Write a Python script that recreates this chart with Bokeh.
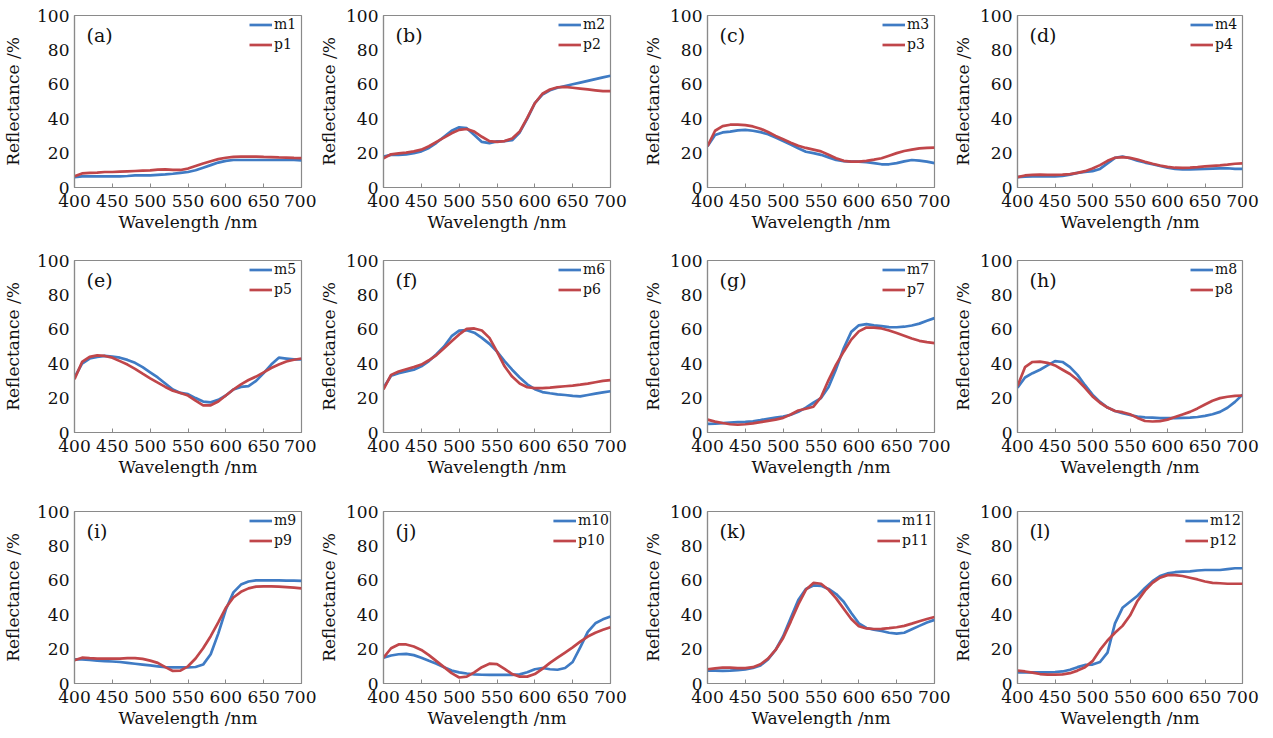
from bokeh.plotting import figure
from bokeh.layouts import column, row
from bokeh.models import Label, Range1d, FixedTicker
from bokeh.embed import file_html
from bokeh.resources import INLINE

wl = list(range(400, 701, 10))

m1 = [6, 6.5, 6.5, 6.5, 6.5, 6.5, 6.5, 6.7, 7, 7, 7, 7.3, 7.6, 8, 8.5, 9, 10, 11.5, 13, 14.5, 15.5, 16, 16, 16, 16, 16, 16, 16, 16, 16, 15.8]
p1 = [6.5, 8.2, 8.5, 8.7, 9, 9, 9.2, 9.4, 9.6, 9.8, 10, 10.4, 10.5, 10.2, 10.2, 11, 12.5, 14, 15.3, 16.5, 17.3, 17.8, 18, 18, 18, 17.8, 17.7, 17.5, 17.4, 17.2, 17.1]
m2 = [18, 19, 19, 19.3, 20, 21, 23, 26, 29.5, 33, 35, 34.5, 30.5, 26.5, 25.8, 26.8, 27, 27.5, 32, 40, 49, 54, 56.5, 58, 59, 60, 61, 62, 63, 64, 65]
p2 = [17, 19.3, 19.8, 20.3, 21, 22, 24, 26.5, 29, 31.5, 33.5, 34, 32.5, 29.5, 27, 26.5, 27, 28.5, 32.5, 40.5, 49, 54.5, 57, 58.3, 58.5, 58, 57.5, 57, 56.5, 56, 56]
m3 = [24, 30.5, 32, 32.5, 33.2, 33.5, 33, 32.2, 31, 29, 27, 25, 22.8, 20.8, 20, 19, 17.5, 16, 15.3, 15, 15, 14.7, 14.2, 13.5, 13.5, 14.2, 15.2, 16, 15.6, 15, 14.2]
p3 = [24, 33, 35.7, 36.5, 36.5, 36.3, 35.5, 34.2, 32.3, 30, 28, 26, 24.3, 23, 22, 21, 19, 17, 15.5, 15, 15, 15.5, 16.2, 17, 18.5, 20, 21.2, 22, 22.7, 23, 23.2]
m4 = [6, 6.3, 6.5, 6.5, 6.5, 6.5, 6.8, 7.5, 8.5, 9, 9.5, 10.8, 14, 17.2, 18, 17, 15.6, 14.5, 13.5, 12.5, 11.5, 10.8, 10.5, 10.5, 10.7, 10.8, 11, 11.1, 11.2, 10.8, 10.8]
p4 = [6, 7, 7.3, 7.5, 7.3, 7.3, 7.5, 7.8, 8.5, 9.5, 11, 13, 15.5, 17.3, 17.7, 17.2, 16.3, 15, 13.8, 12.8, 12, 11.5, 11.4, 11.6, 11.9, 12.3, 12.6, 12.9, 13.3, 13.8, 14]
m5 = [32, 40, 43, 44, 44.5, 44.2, 43.5, 42.2, 40.5, 38, 35, 32, 28.5, 25, 23, 22.3, 20, 18, 17.5, 19, 21.5, 25, 26.5, 27, 30, 34.5, 39.5, 43.5, 43, 42.5, 42.5]
p5 = [31, 41, 44, 44.8, 44.5, 43.5, 41.5, 39.5, 37, 34.2, 31.5, 29, 26.5, 24.3, 23, 21.5, 18.5, 15.8, 15.8, 18, 21.5, 25, 28, 30.5, 32.5, 35, 37.5, 39.5, 41.3, 42.3, 43]
m6 = [26, 33, 34.5, 35.5, 36.5, 38.5, 41.5, 45.5, 50, 56, 59.2, 59.5, 58, 55, 51.5, 47, 41.5, 36.5, 32, 28, 25.2, 23.5, 22.8, 22.2, 21.8, 21.3, 21, 21.8, 22.6, 23.3, 24]
p6 = [25, 33.5, 35.5, 36.8, 38, 39.5, 42, 45, 49, 53, 57, 60.2, 60.5, 59.3, 55, 47, 38.5, 32.5, 28.5, 26.3, 25.8, 25.8, 26.1, 26.5, 26.9, 27.3, 27.8, 28.4, 29.2, 30, 30.5]
m7 = [5, 5.2, 5.5, 5.8, 6, 6.2, 6.5, 7.2, 8, 8.7, 9.2, 10.3, 12, 14.5, 17.3, 20, 26.5, 37, 49, 58.5, 62.3, 63, 62.3, 61.8, 61.3, 61.2, 61.5, 62.2, 63.3, 65, 66.5]
p7 = [7.5, 6.3, 5.5, 4.8, 4.5, 4.8, 5.3, 6, 6.8, 7.5, 8.5, 10.5, 12.8, 13.8, 15, 20.5, 30.5, 39.5, 47, 54, 58.8, 61, 61, 60.5, 59.3, 57.8, 56.3, 54.7, 53.3, 52.5, 52]
m8 = [26, 32, 34.5, 36.5, 39, 41.5, 41, 38, 33.5, 27.5, 22, 17.8, 14.5, 12.5, 11.2, 10.2, 9.3, 8.8, 8.6, 8.4, 8.4, 8.4, 8.5, 8.6, 9, 9.7, 10.6, 12, 14.4, 17.8, 22]
p8 = [27, 38, 41, 41.2, 40.5, 39, 36.5, 34, 30.5, 26, 21, 17.3, 14.5, 12.5, 11.8, 10.6, 8.5, 6.7, 6.4, 6.6, 7.5, 9, 10.5, 12, 14, 16.3, 18.5, 20, 20.8, 21.3, 21.5]
m9 = [14, 14, 13.7, 13.3, 13, 12.8, 12.5, 12, 11.5, 11, 10.5, 10, 9.5, 9.4, 9.4, 9.4, 9.6, 11, 17, 29, 43, 53, 57.5, 59.3, 60, 60, 60, 60, 59.8, 59.8, 59.7]
p9 = [13.5, 15, 14.7, 14.5, 14.5, 14.5, 14.5, 14.8, 14.8, 14.3, 13.3, 12, 9.5, 7.3, 7.5, 10, 14.5, 20.5, 27.5, 35.5, 44, 50, 53.3, 55.3, 56.3, 56.5, 56.5, 56.3, 56, 55.7, 55.3]
m10 = [15, 16.3, 17, 17.2, 16.5, 15, 13.2, 11.5, 9.5, 7.5, 6.5, 5.8, 5.3, 5.1, 5, 5, 5, 5, 5.3, 6.5, 8.3, 9, 8.3, 8, 9, 12.5, 21, 30, 35, 37.3, 39]
p10 = [15, 20.5, 22.7, 22.7, 21.5, 19.5, 16.5, 13, 9.5, 6, 3.5, 4, 6.5, 9.5, 11.5, 11.3, 8.5, 5.5, 4, 4, 5.5, 8.5, 12, 15, 18, 21, 24.3, 27.3, 29.5, 31.2, 32.7]
m11 = [7.5, 7.5, 7.3, 7.5, 7.8, 8.2, 9, 10.5, 14, 19.5, 27.5, 38, 48.5, 55, 57, 56.8, 55, 52, 47.5, 41, 35, 32.3, 31.3, 30.5, 29.5, 29, 29.5, 31.5, 33.5, 35.5, 37]
p11 = [8.3, 8.8, 9.3, 9.2, 8.9, 8.9, 9.5, 11.2, 14.5, 19.5, 26.5, 36, 46, 54.5, 58.5, 58, 54.5, 49.5, 43.5, 37.5, 33.3, 32, 31.7, 31.8, 32.2, 32.7, 33.5, 34.8, 36.2, 37.5, 38.7]
m12 = [6.5, 6.5, 6.5, 6.5, 6.5, 6.7, 7, 8, 9.5, 10.8, 11, 12.5, 18, 35, 44, 47.5, 51, 55.5, 59.5, 62.5, 64, 64.7, 65, 65.2, 65.7, 66, 66, 66, 66.5, 67, 67]
p12 = [7.5, 7, 6.3, 5.5, 5.2, 5.2, 5.3, 6, 7.5, 9.5, 13, 19.5, 25, 29.5, 33.5, 39.5, 48, 54, 58.5, 61.5, 63, 63, 62.5, 61.5, 60.5, 59.3, 58.5, 58.3, 58, 58, 58]

measured = [m1, m2, m3, m4, m5, m6, m7, m8, m9, m10, m11, m12]
predicted = [p1, p2, p3, p4, p5, p6, p7, p8, p9, p10, p11, p12]
panel_letters = ["(a)", "(b)", "(c)", "(d)", "(e)", "(f)", "(g)", "(h)", "(i)", "(j)", "(k)", "(l)"]
x_ticks = [400, 450, 500, 550, 600, 650, 700]
y_ticks = [0, 20, 40, 60, 80, 100]

FONT = "DejaVu Serif"
BLUE = "#3F7BC4"
RED = "#C0464A"
GRAY = "#8a8a8a"
INK = "#111111"

col_w = [316, 324, 310, 318]
col_left = [74, 66, 66, 66]
col_frame = [227, 228, 228, 226]
col_ylabel_standoff = [11, 4, 4, 4]
row_h = [245, 249, 244]
row_top = [15, 15, 17]

rows = []
for r in range(3):
    figs = []
    for c in range(4):
        i = r * 4 + c
        bottom = row_h[r] - row_top[r] - 172
        right = col_w[c] - col_left[c] - col_frame[c]
        p = figure(width=col_w[c], height=row_h[r], output_backend="svg",
                   toolbar_location=None, x_range=Range1d(400, 700), y_range=Range1d(0, 100),
                   min_border_left=col_left[c], min_border_right=right,
                   min_border_top=row_top[r], min_border_bottom=bottom)
        p.line(wl, measured[i], line_color=BLUE, line_width=2.7, legend_label="m%d" % (i + 1))
        p.line(wl, predicted[i], line_color=RED, line_width=2.7, legend_label="p%d" % (i + 1))
        p.xgrid.visible = False
        p.ygrid.visible = False
        p.outline_line_color = GRAY
        p.outline_line_width = 1.2
        p.xaxis.ticker = FixedTicker(ticks=x_ticks)
        p.yaxis.ticker = FixedTicker(ticks=y_ticks)
        for ax in (p.xaxis, p.yaxis):
            ax.axis_line_color = GRAY
            ax.axis_line_width = 1.2
            ax.major_tick_line_color = GRAY
            ax.minor_tick_line_color = None
            ax.major_label_text_font = FONT
            ax.major_label_text_font_size = "17px"
            ax.major_label_text_color = INK
            ax.axis_label_text_font = FONT
            ax.axis_label_text_font_size = "17px"
            ax.axis_label_text_font_style = "normal"
            ax.axis_label_text_color = INK
        p.xaxis.major_tick_in = 4
        p.xaxis.major_tick_out = 0
        p.yaxis.major_tick_in = 0
        p.yaxis.major_tick_out = 0
        p.xaxis.major_label_standoff = 7
        p.xaxis.axis_label_standoff = 2
        p.yaxis.major_label_standoff = 5
        p.yaxis.axis_label_standoff = col_ylabel_standoff[c]
        p.xaxis.axis_label = "Wavelength /nm"
        p.yaxis.axis_label = "Reflectance /%"
        lg = p.legend[0]
        lg.location = "top_right"
        lg.border_line_color = None
        lg.background_fill_alpha = 0
        lg.label_text_font = FONT
        lg.label_text_font_size = "14px"
        lg.label_text_color = INK
        lg.glyph_width = 23
        lg.glyph_height = 15
        lg.label_height = 15
        lg.label_width = 26
        lg.label_standoff = 2
        lg.spacing = 4
        lg.padding = 2
        lg.margin = 1
        p.add_layout(Label(x=416, y=88.4, text=panel_letters[i], text_font=FONT,
                           text_font_size="19px", text_baseline="middle",
                           text_color=INK))
        figs.append(p)
    rows.append(row(*figs))

layout = column(*rows)
open("out.html", "w").write(file_html(layout, INLINE))
